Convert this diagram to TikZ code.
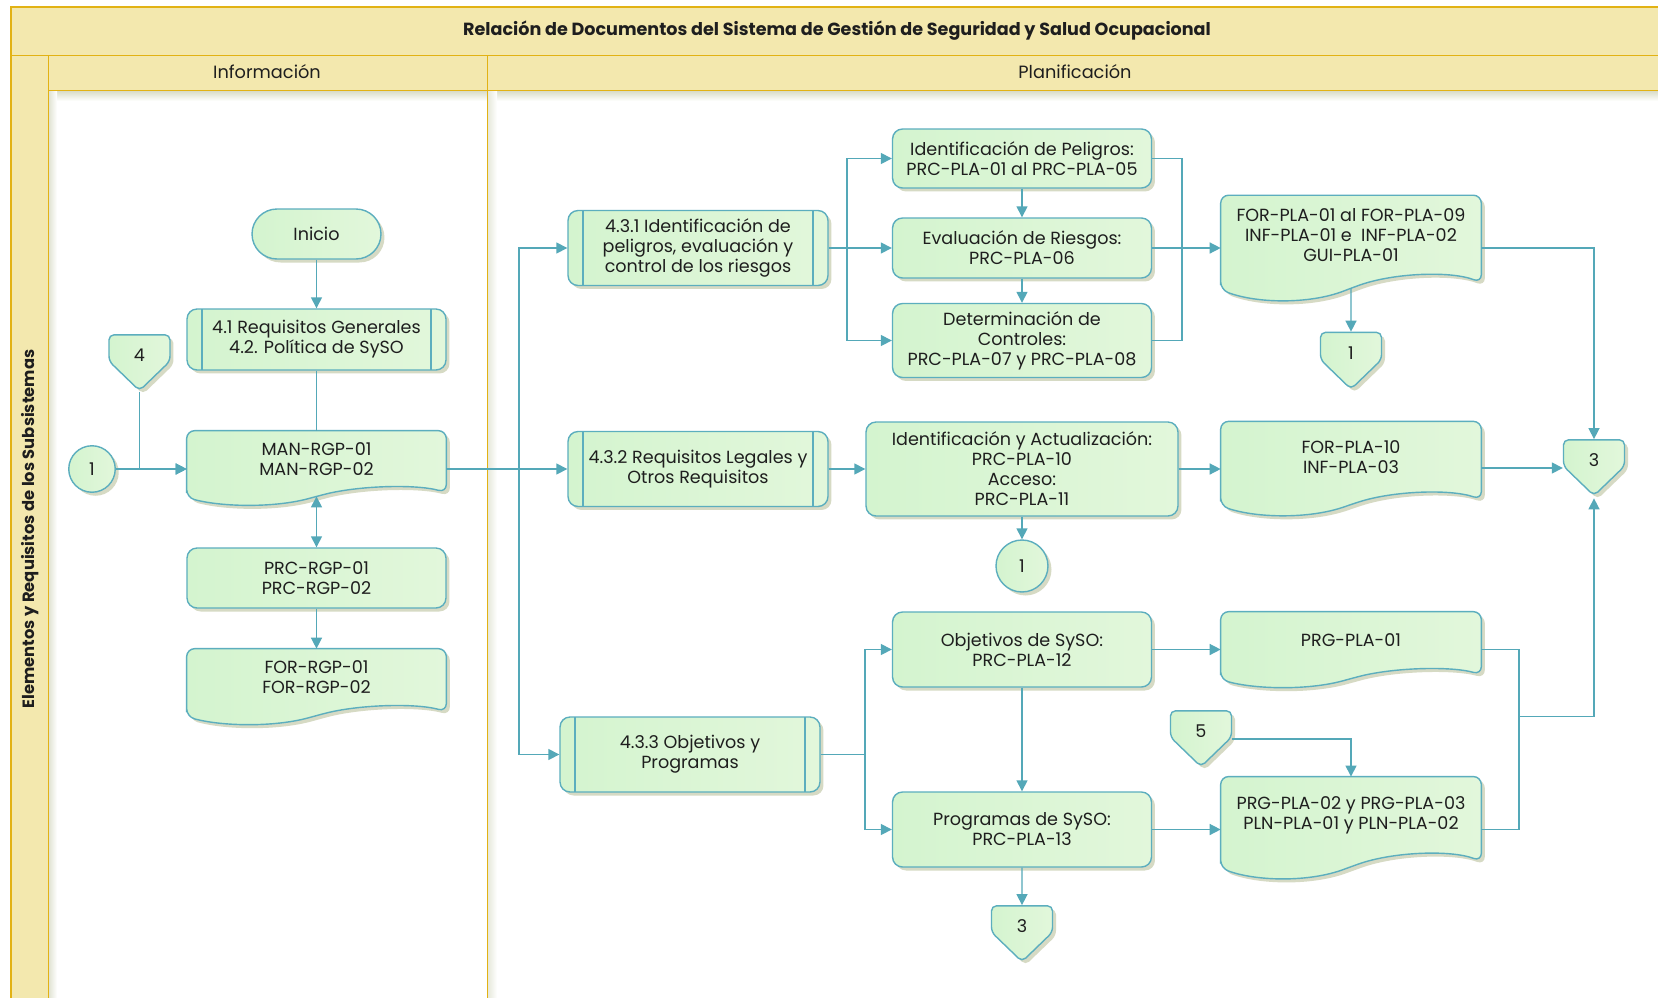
\documentclass[tikz,border=0pt]{standalone}
\usepackage{fontspec}
\setmainfont{Poppins}
\usetikzlibrary{arrows.meta,calc,shapes.symbols,shadows,backgrounds}

\definecolor{bandfill}{RGB}{243,232,174}
\definecolor{bandline}{RGB}{226,178,20}
\definecolor{boxfill}{RGB}{212,244,207}
\definecolor{boxlight}{RGB}{226,247,219}
\definecolor{boxline}{RGB}{92,174,190}
\definecolor{flowline}{RGB}{84,168,184}
\definecolor{shadowgray}{RGB}{198,203,172}
\definecolor{textdark}{RGB}{30,30,30}

\newcommand{\flowfont}{\fontsize{10}{11.4}\selectfont}

\tikzset{
  basebox/.style={draw=boxline, line width=0.8pt, left color=boxfill, right color=boxlight,
    text=textdark, font=\flowfont, align=center, inner sep=2pt,
    drop shadow={shadow xshift=0.07cm, shadow yshift=-0.07cm, fill=shadowgray, opacity=0.7}},
  procbox/.style={basebox, rectangle, rounded corners=0.2cm, minimum width=5.18cm},
  subproc/.style={procbox, minimum width=5.2cm,
    path picture={
      \draw[boxline, line width=0.8pt]
        ([xshift=0.3cm]path picture bounding box.north west) -- ([xshift=0.3cm]path picture bounding box.south west)
        ([xshift=-0.3cm]path picture bounding box.north east) -- ([xshift=-0.3cm]path picture bounding box.south east);}},
  termbox/.style={basebox, rectangle, rounded corners=0.5cm, minimum width=2.58cm, minimum height=1cm},
  docbox/.style={rectangle, text=textdark, font=\flowfont, align=center, inner sep=2pt, minimum width=5.18cm},
  docshape/.style={draw=boxline, line width=0.8pt, left color=boxfill, right color=boxlight,
    rounded corners=0.16cm,
    drop shadow={shadow xshift=0.07cm, shadow yshift=-0.07cm, fill=shadowgray, opacity=0.7}},
  offpage/.style={basebox, signal, signal to=south, signal from=nowhere, signal pointer angle=92,
    rounded corners=0.1cm, minimum width=1.22cm, minimum height=0.6cm, inner sep=0pt,
    text height=15pt, text depth=0pt},
  conn/.style={basebox, circle, inner sep=0pt, minimum size=0.93cm},
  link/.style={draw=flowline, line width=0.8pt},
  flow/.style={link, -{Triangle[length=0.22cm,width=0.22cm]}},
  flowboth/.style={link, {Triangle[length=0.22cm,width=0.22cm]}-{Triangle[length=0.22cm,width=0.22cm]}},
  lane/.style={fill=bandfill, draw=bandline, line width=1.1pt},
  lanetext/.style={font=\fontsize{10.1}{12}\selectfont, text=textdark},
}

% document outline under a docbox node, wave below its south side
\newcommand{\docwave}[1]{%
  \begin{pgfonlayer}{background}
    \path[docshape] let \p1=(#1.north west), \p2=(#1.south east),
      \n1={\x2-\x1}, \n2={\y1-\y2} in
      (\x1,\y2-0.18*\n2) -- (\x1,\y1) -- (\x2,\y1) -- (\x2,\y2-0.09*\n2)
      .. controls (\x1+0.88*\n1,\y2+0.06*\n2) and (\x1+0.66*\n1,\y2+0.03*\n2) .. (\x1+0.5*\n1,\y2-0.16*\n2)
      coordinate (#1-wave)
      .. controls (\x1+0.34*\n1,\y2-0.36*\n2) and (\x1+0.14*\n1,\y2-0.35*\n2) .. (\x1,\y2-0.18*\n2) -- cycle;
  \end{pgfonlayer}}

\begin{document}
\begin{tikzpicture}[x=0.02cm,y=-0.02cm]
  \useasboundingbox (0,0) rectangle (1658,998);
  \clip (0,0) rectangle (1658,998);

  % swimlane frame
  \begin{pgfonlayer}{background}
    \fill[white] (0,0) rectangle (1658,998);
    % soft lane shadows
    \shade[top color=shadowgray!70, bottom color=white] (48.5,90.5) rectangle (1662,101);
    \shade[left color=shadowgray!55, right color=white] (48.5,90.5) rectangle (57,1010);
    \shade[left color=shadowgray!45, right color=white] (487.5,90.5) rectangle (497,1010);
    \draw[lane] (10.6,7.4) rectangle (1662,55.5);
    \draw[lane] (10.6,55.5) rectangle (48.5,1010);
    \draw[lane] (48.5,55.5) rectangle (1662,90.5);
    \draw[bandline, line width=1.1pt] (487.5,55.5) -- (487.5,1010);
  \end{pgfonlayer}

  \node[lanetext, font=\bfseries\fontsize{10}{12}\selectfont] (title) at (837,30.5)
    {Relación de Documentos del Sistema de Gestión de Seguridad y Salud Ocupacional};
  \node[lanetext] (hdrinfo) at (267,72) {Información};
  \node[lanetext] (hdrplan) at (1075,72) {Planificación};
  \node[lanetext, rotate=90, font=\bfseries\fontsize{9.3}{11}\selectfont] (sidelabel) at (30,529)
    {Elementos y Requisitos de los Subsistemas};

  % --- Informacion ---
  \node[termbox] (inicio) at (316.5,234) {Inicio};
  \node[subproc, minimum width=5.18cm, minimum height=1.22cm] (req41) at (316.5,339.5)
    {4.1 Requisitos Generales\\4.2. Política de SySO};
  \node[offpage] (off4) at (139.5,348) {4};
  \node[conn] (con1a) at (92,469) {1};
  \node[docbox, minimum height=1.12cm] (man) at (316.5,459) {MAN-RGP-01\\MAN-RGP-02};
  \node[procbox, minimum height=1.2cm] (prc) at (316.5,578) {PRC-RGP-01\\PRC-RGP-02};
  \node[docbox, minimum height=1.14cm] (forrgp) at (316.5,677.5) {FOR-RGP-01\\FOR-RGP-02};
  \docwave{man}
  \docwave{forrgp}

  % --- Planificacion ---
  \node[subproc, minimum height=1.5cm] (p431) at (698,248)
    {4.3.1 Identificación de\\peligros, evaluación y\\control de los riesgos};
  \node[subproc, minimum height=1.5cm] (p432) at (698,469)
    {4.3.2 Requisitos Legales y\\Otros Requisitos};
  \node[subproc, minimum height=1.5cm] (p433) at (690,754.5)
    {4.3.3 Objetivos y\\Programas};

  \node[procbox, minimum height=1.18cm] (pel) at (1022,158.5)
    {Identificación de Peligros:\\PRC-PLA-01 al PRC-PLA-05};
  \node[procbox, minimum height=1.2cm] (eva) at (1022,248)
    {Evaluación de Riesgos:\\PRC-PLA-06};
  \node[procbox, minimum height=1.48cm] (det) at (1022,340.5)
    {Determinación de\\Controles:\\PRC-PLA-07 y PRC-PLA-08};
  \node[procbox, minimum width=6.24cm, minimum height=1.88cm] (idact) at (1022,469)
    {Identificación y Actualización:\\PRC-PLA-10\\Acceso:\\PRC-PLA-11};
  \node[conn, minimum size=1.04cm] (con1b) at (1022,566) {1};
  \node[procbox, minimum height=1.5cm] (obj) at (1022,649.5)
    {Objetivos de SySO:\\PRC-PLA-12};
  \node[procbox, minimum height=1.5cm] (prog) at (1022,829.5)
    {Programas de SySO:\\PRC-PLA-13};
  \node[offpage] (off3b) at (1022,919) {3};

  \node[docbox, minimum width=5.2cm, minimum height=1.59cm] (forpla) at (1351,235.3)
    {FOR-PLA-01 al FOR-PLA-09\\INF-PLA-01 e~ INF-PLA-02\\GUI-PLA-01};
  \node[offpage] (off1) at (1351,346) {1};
  \node[docbox, minimum width=5.2cm, minimum height=1.42cm] (forpla10) at (1351,457.2)
    {FOR-PLA-10\\INF-PLA-03};
  \node[offpage] (off3) at (1594,453) {3};
  \node[docbox, minimum width=5.2cm, minimum height=1.14cm] (prg01) at (1351,640.5)
    {PRG-PLA-01};
  \node[offpage] (off5) at (1201,724) {5};
  \node[docbox, minimum width=5.2cm, minimum height=1.54cm] (prg02) at (1351,815.4)
    {PRG-PLA-02 y PRG-PLA-03\\PLN-PLA-01 y PLN-PLA-02};
  \docwave{forpla}
  \docwave{forpla10}
  \docwave{prg01}
  \docwave{prg02}

  % branch points
  \coordinate (fanA) at (519,469);
  \coordinate (fanB) at (847,248);
  \coordinate (mergeA) at (1182,248);
  \coordinate (fanC) at (865,754.5);
  \coordinate (mergeB) at (1519,716.5);
  \coordinate (in3) at ([yshift=-0.3cm]off3.west);
  \coordinate (out5) at ([yshift=-0.3cm]off5.east);

  % --- connectors ---
  \draw[flow] (inicio) -- (req41);
  \draw[link] (req41) -- (man);
  \draw[flow] (off4) |- (con1a -| man.west);
  \draw[flow] (con1a) -- (con1a -| man.west);
  \draw[flowboth] (man-wave) -- (prc);
  \draw[flow] (prc) -- (forrgp);

  \draw[flow] (con1a -| man.east) -- (p432);
  \draw[flow] (fanA) |- (p431);
  \draw[flow] (fanA) |- (p433);

  \draw[flow] (p431) -- (eva);
  \draw[flow] (fanB) |- (pel);
  \draw[flow] (fanB) |- (det);
  \draw[flow] (pel) -- (eva);
  \draw[flow] (eva) -- (det);
  \draw[link] (pel) -| (mergeA);
  \draw[link] (det) -| (mergeA);
  \draw[flow] (eva) -- (eva -| forpla.west);
  \draw[flow] (forpla-wave) -- (off1);
  \draw[flow] (eva -| forpla.east) -| (off3);

  \draw[flow] (p432) -- (idact);
  \draw[flow] (idact) -- (con1b);
  \draw[flow] (idact) -- (idact -| forpla10.west);
  \draw[flow] (in3 -| forpla10.east) -- (in3);

  \draw[link] (p433) -- (fanC);
  \draw[flow] (fanC) |- (obj);
  \draw[flow] (fanC) |- (prog);
  \draw[flow] (obj) -- (prog);
  \draw[flow] (prog) -- (off3b);
  \draw[flow] (obj) -- (obj -| prg01.west);
  \draw[flow] (prog) -- (prog -| prg02.west);
  \draw[flow] (out5) -| (prg02.north);
  \draw[link] (obj -| prg01.east) -| (mergeB);
  \draw[link] (prog -| prg02.east) -| (mergeB);
  \draw[flow, shorten >=1pt] (mergeB) -| (off3);

\end{tikzpicture}
\end{document}
